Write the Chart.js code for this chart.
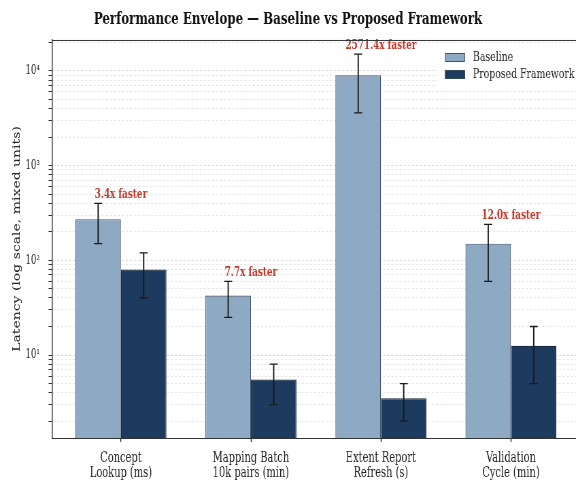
<!DOCTYPE html>
<html>
<head>
<meta charset="utf-8">
<script src="https://cdn.jsdelivr.net/npm/chart.js@4.4.1/dist/chart.umd.min.js"></script>
<style>
  html, body { margin: 0; padding: 0; background: #ffffff; overflow: hidden; }
  #wrap { position: absolute; left: 0; top: 0; width: 847px; height: 481px; transform: scaleX(0.68); transform-origin: 0 0; }
  #c { display: block; }
</style>
</head>
<body>
<div id="wrap"><canvas id="c" width="847" height="481" style="width:847px;height:481px"></canvas></div>
<script>
// ---- data ----
const categories = [["Concept", "Lookup (ms)"], ["Mapping Batch", "10k pairs (min)"], ["Extent Report", "Refresh (s)"], ["Validation", "Cycle (min)"]];
const seriesNames = ["Baseline", "Proposed Framework"];
const baseline = [272, 42.5, 9000, 150];
const proposed = [80, 5.5, 3.5, 12.5];
const baselineErrLow = [150, 25, 3600, 60];
const baselineErrHigh = [400, 60, 15000, 240];
const proposedErrLow = [40, 3, 2, 5];
const proposedErrHigh = [120, 8, 5, 20];
const yMajorTicks = [10, 100, 1000, 10000];
const yTickLabels = ["10\u00B9", "10\u00B2", "10\u00B3", "10\u2074"];

const FONT = "'DejaVu Serif', 'Liberation Serif', serif";
const baseColor = "#8DA9C4";
const propColor = "#1D3A5F";
const noteColor = "#C0392B";
const SX = 1 / 0.68; // horizontal compensation for the squeezed drawing surface

const yMin = 1.33, yMax = 21200;

function isMajor(v) { return yMajorTicks.some(m => Math.abs(v - m) < 1e-9 * m); }

const extrasPlugin = {
  id: "extras",
  afterDatasetsDraw(chart) {
    const ctx = chart.ctx;
    const y = chart.scales.y;
    const lows = [baselineErrLow, proposedErrLow];
    const highs = [baselineErrHigh, proposedErrHigh];
    ctx.save();
    ctx.strokeStyle = "#1a1a1a";
    chart.data.datasets.forEach((ds, di) => {
      const meta = chart.getDatasetMeta(di);
      meta.data.forEach((bar, i) => {
        const x = bar.x;
        const yl = y.getPixelForValue(lows[di][i]);
        const yh = y.getPixelForValue(highs[di][i]);
        ctx.lineWidth = 1.3 * SX;
        ctx.beginPath();
        ctx.moveTo(x, yl); ctx.lineTo(x, yh);
        ctx.stroke();
        ctx.lineWidth = 1.3;
        ctx.beginPath();
        ctx.moveTo(x - 4 * SX, yl); ctx.lineTo(x + 4 * SX, yl);
        ctx.moveTo(x - 4 * SX, yh); ctx.lineTo(x + 4 * SX, yh);
        ctx.stroke();
      });
    });
    // speed-up annotations
    const xs = chart.scales.x;
    ctx.fillStyle = noteColor;
    ctx.font = "bold 13px " + FONT;
    ctx.textAlign = "center";
    ctx.textBaseline = "middle";
    baseline.forEach((b, i) => {
      const top = Math.max(baselineErrHigh[i], proposedErrHigh[i]);
      const px = xs.getPixelForValue(i);
      const py = y.getPixelForValue(top) - 9;
      ctx.fillText((b / proposed[i]).toFixed(1) + "x faster", px, py);
    });
    ctx.restore();
  },
  afterDraw(chart) {
    const ctx = chart.ctx;
    const a = chart.chartArea;
    ctx.save();
    // top spine
    ctx.strokeStyle = "#333333";
    ctx.lineWidth = 1;
    ctx.beginPath();
    ctx.moveTo(a.left, a.top + 0.5);
    ctx.lineTo(a.right, a.top + 0.5);
    ctx.stroke();
    // legend
    const lx = 445 * SX, ly = a.top + 9;
    ctx.fillStyle = "rgba(255,255,255,0.9)";
    ctx.fillRect(lx - 8 * SX, ly - 3, 145 * SX, 40);
    const colors = [baseColor, propColor];
    ctx.font = "13.7px " + FONT;
    ctx.textAlign = "left";
    ctx.textBaseline = "middle";
    seriesNames.forEach((n, i) => {
      const ry = ly + 8 + i * 17;
      ctx.fillStyle = colors[i];
      ctx.fillRect(lx, ry - 4, 20 * SX, 9);
      ctx.strokeStyle = "#3a4a5c";
      ctx.lineWidth = 0.9;
      ctx.strokeRect(lx + 0.5, ry - 3.5, 20 * SX - 1, 8);
      ctx.fillStyle = "#222222";
      ctx.fillText(n, lx + 28 * SX, ry + 0.5);
    });
    ctx.restore();
  }
};

new Chart(document.getElementById("c"), {
  type: "bar",
  data: {
    datasets: [
      {
        label: seriesNames[0],
        data: baseline.map((v, i) => ({ x: i, y: v })),
        backgroundColor: baseColor,
        borderColor: "#44546a",
        borderWidth: 1.2
      },
      {
        label: seriesNames[1],
        data: proposed.map((v, i) => ({ x: i, y: v })),
        backgroundColor: propColor,
        borderColor: "#1a2a3e",
        borderWidth: 1.2
      }
    ]
  },
  options: {
    responsive: false,
    animation: false,
    devicePixelRatio: 1,
    categoryPercentage: 0.7,
    barPercentage: 1.0,
    layout: { padding: { left: 0, right: 0, top: 0, bottom: 0 } },
    plugins: {
      legend: { display: false },
      tooltip: { enabled: false },
      title: {
        display: true,
        text: "Performance Envelope \u2014 Baseline vs Proposed Framework",
        color: "#111111",
        font: { family: FONT, size: 17.4, weight: "bold", lineHeight: 1.2 },
        padding: { top: 8.6, bottom: 10.5 }
      }
    },
    scales: {
      x: {
        type: "linear",
        min: -0.53,
        max: 3.5,
        offset: false,
        afterBuildTicks(scale) { scale.ticks = categories.map((c, i) => ({ value: i })); },
        afterFit(scale) { scale.height = 43; },
        ticks: {
          autoSkip: false,
          maxRotation: 0,
          padding: 8.5,
          color: "#222222",
          font: { family: FONT, size: 14.5, lineHeight: 1.05 },
          callback: (v) => categories[Math.round(v)]
        },
        grid: { display: true, drawOnChartArea: false, drawTicks: true, tickLength: 4, tickColor: "#333333", tickWidth: 1.5, offset: false },
        border: { display: true, color: "#333333", width: 1 }
      },
      y: {
        type: "logarithmic",
        min: yMin,
        max: yMax,
        afterBuildTicks(scale) {
          const t = [];
          for (let e = 0; e <= 4; e++) {
            for (let m = 1; m <= 9; m++) {
              const v = m * Math.pow(10, e);
              if (v >= yMin && v <= yMax) t.push({ value: v, major: isMajor(v) });
            }
          }
          scale.ticks = t;
        },
        afterFit(scale) { scale.width = 52 * SX; },
        title: {
          display: true,
          text: "Latency (log scale, mixed units)",
          color: "#222222",
          font: { family: FONT, size: 14, lineHeight: 1.2 },
          padding: { top: 16.6, bottom: 0 }
        },
        ticks: {
          autoSkip: false,
          padding: 13,
          color: "#222222",
          font: { family: FONT, size: 12.5 },
          callback: (v) => { const k = yMajorTicks.findIndex(m => Math.abs(v - m) < 1e-6 * m); return k >= 0 ? yTickLabels[k] : ""; }
        },
        grid: {
          display: true,
          drawOnChartArea: true,
          drawTicks: true,
          tickLength: 5,
          color: (c) => (c.tick && isMajor(c.tick.value)) ? "rgba(0,0,0,0.16)" : "rgba(0,0,0,0.11)",
          lineWidth: 1,
          tickColor: "#333333",
          tickBorderDash: []
        },
        border: { display: true, color: "#333333", width: 1.5, dash: [3, 3] }
      }
    }
  },
  plugins: [extrasPlugin]
});
</script>
</body>
</html>
